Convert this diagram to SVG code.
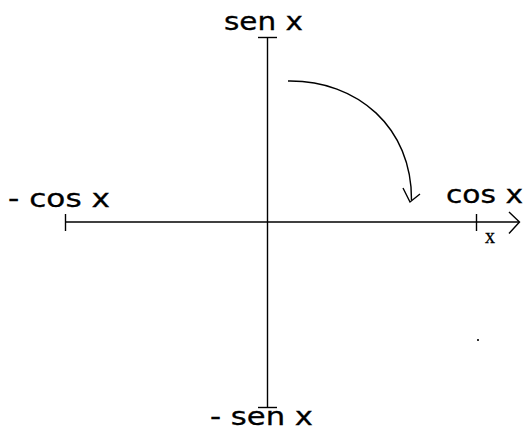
<svg xmlns="http://www.w3.org/2000/svg" width="525" height="431" viewBox="0 0 525 431">
  <style>
    .ax { stroke: #000; stroke-width: 1.4; fill: none; }
    .lbl { font-family: "DejaVu Sans", Verdana, sans-serif; font-size: 25px; fill: #000; stroke: #000; stroke-width: 0.3; }
    .small { font-family: "Liberation Serif", "Times New Roman", serif; font-size: 20px; fill: #000; stroke: #000; stroke-width: 0.3; }
  </style>
  <rect width="525" height="431" fill="#fff"/>
  <g id="axes">
    <line class="ax" x1="267.5" y1="37.5" x2="267.5" y2="407.5"/>
    <line class="ax" x1="258" y1="37.5" x2="277" y2="37.5"/>
    <line class="ax" x1="258" y1="407.5" x2="277" y2="407.5"/>
    <line class="ax" x1="65.5" y1="222" x2="519" y2="222"/>
    <line class="ax" x1="65.5" y1="214" x2="65.5" y2="231"/>
    <line class="ax" x1="476.5" y1="214" x2="476.5" y2="231"/>
    <polyline class="ax" points="509,212 519.5,222 509,233.5"/>
  </g>
  <g id="rotation-arrow">
    <path class="ax" stroke-width="1.8" d="M288,81 C358,80 412,128 411.5,200"/>
    <polyline class="ax" stroke-width="1.8" points="403,188 410,202 420,194"/>
  </g>
  <g id="label-sen"><text class="lbl" x="224" y="30" textLength="79" lengthAdjust="spacingAndGlyphs">sen x</text></g>
  <g id="label-cos"><text class="lbl" x="446" y="203" textLength="77" lengthAdjust="spacingAndGlyphs">cos x</text></g>
  <g id="label-neg-cos"><text class="lbl" x="8" y="207" textLength="102" lengthAdjust="spacingAndGlyphs">- cos x</text></g>
  <g id="label-neg-sen"><text class="lbl" x="210" y="425" textLength="103" lengthAdjust="spacingAndGlyphs">- sen x</text></g>
  <g id="label-x"><text class="small" x="485" y="243">x</text></g>
  <rect x="477" y="339" width="2" height="2" fill="#333"/>
</svg>
